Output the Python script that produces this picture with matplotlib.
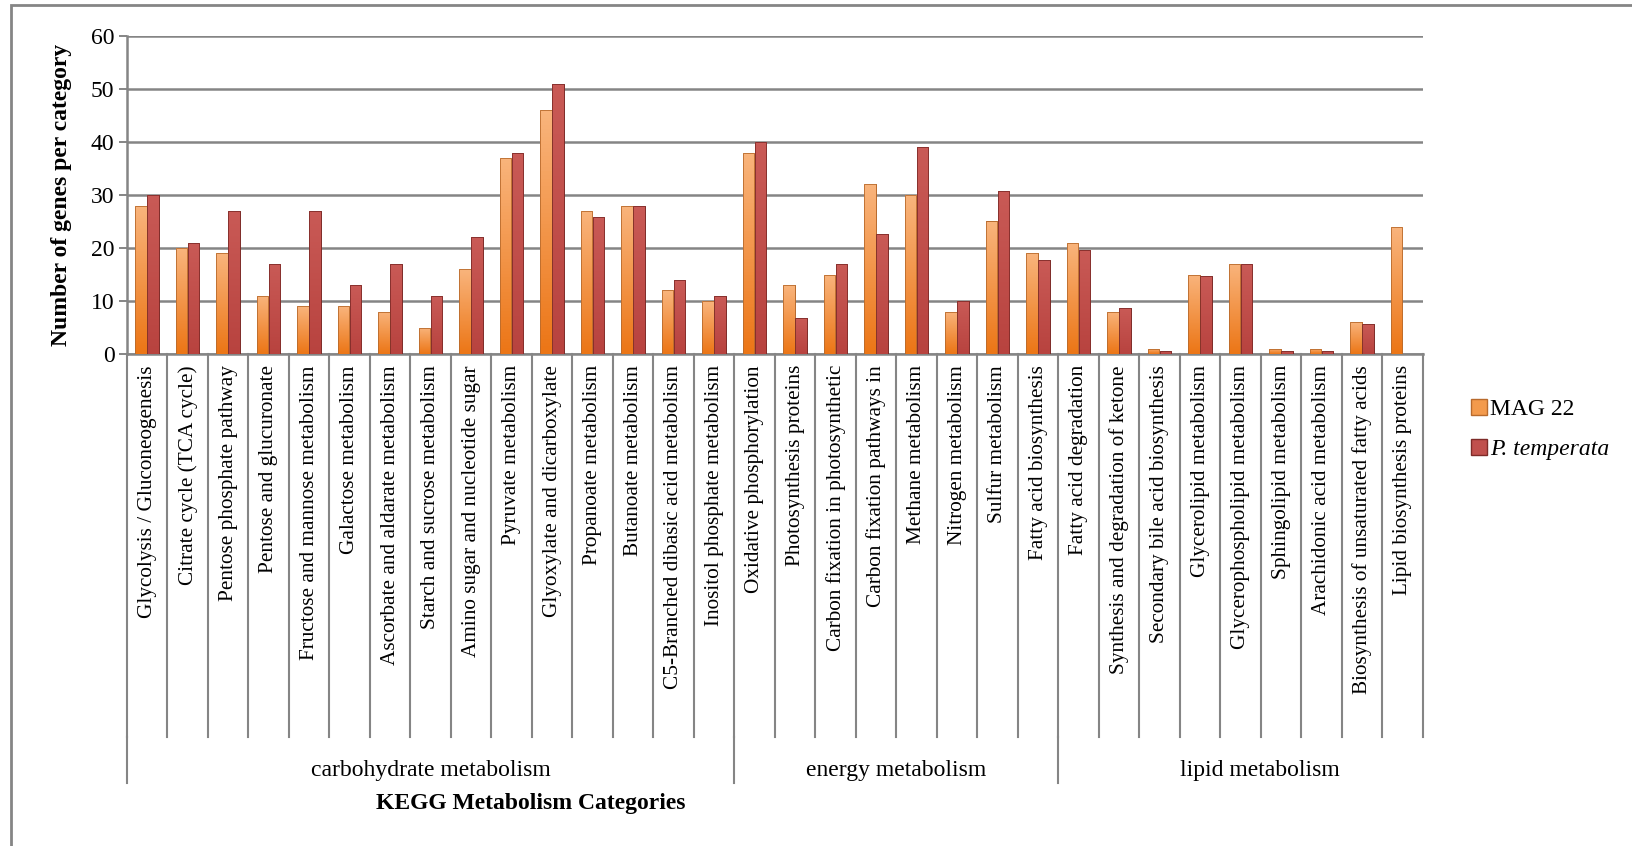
import numpy as np
import matplotlib
matplotlib.use('Agg')
import matplotlib.pyplot as plt
import matplotlib.transforms as mtransforms
from matplotlib.patches import Rectangle, Patch

# Data
categories = [
    'Glycolysis / Gluconeogenesis', 'Citrate cycle (TCA cycle)', 'Pentose phosphate pathway',
    'Pentose and glucuronate', 'Fructose and mannose metabolism', 'Galactose metabolism',
    'Ascorbate and aldarate metabolism', 'Starch and sucrose metabolism',
    'Amino sugar and nucleotide sugar', 'Pyruvate metabolism', 'Glyoxylate and dicarboxylate',
    'Propanoate metabolism', 'Butanoate metabolism', 'C5-Branched dibasic acid metabolism',
    'Inositol phosphate metabolism',
    'Oxidative phosphorylation', 'Photosynthesis proteins', 'Carbon fixation in photosynthetic',
    'Carbon fixation pathways in', 'Methane metabolism', 'Nitrogen metabolism',
    'Sulfur metabolism', 'Fatty acid biosynthesis',
    'Fatty acid degradation', 'Synthesis and degradation of ketone',
    'Secondary bile acid biosynthesis', 'Glycerolipid metabolism',
    'Glycerophospholipid metabolism', 'Sphingolipid metabolism', 'Arachidonic acid metabolism',
    'Biosynthesis of unsaturated fatty acids', 'Lipid biosynthesis proteins',
]
mag22 = [28, 20, 19, 11, 9, 9, 8, 5, 16, 37, 46, 27, 28, 12, 10,
         38, 13, 15, 32, 30, 8, 25, 19,
         21, 8, 1, 15, 17, 1, 1, 6, 24]
p_temperata = [30, 21, 27, 17, 27, 13, 17, 11, 22, 38, 51, 25.8, 28, 14, 11,
               40, 6.7, 17, 22.7, 39, 10, 30.8, 17.7,
               19.6, 8.6, 0.5, 14.7, 17, 0.5, 0.5, 5.7, 0]
groups = ['carbohydrate metabolism', 'energy metabolism', 'lipid metabolism']
group_sizes = [15, 8, 9]

plt.rcParams['font.family'] = ['Liberation Serif', 'DejaVu Serif']
grey = '#858585'

fig = plt.figure(figsize=(16.33, 8.46), dpi=100)
ax = fig.add_axes([127 / 1633, 1 - 354 / 846, 1296 / 1633, 318 / 846])

x = np.arange(len(categories))
w = 0.28
bars1 = ax.bar(x - 0.155, mag22, w, color='#F39A4C', edgecolor='#B86A2C', linewidth=0.6, zorder=3)
bars2 = ax.bar(x + 0.145, p_temperata, w, color='#C0504D', edgecolor='#7E2B28', linewidth=0.6, zorder=3)

# vertical gradient on the orange bars, slight shading on the red ones
grad = np.linspace(0, 1, 64).reshape(-1, 1)
orange_cmap = matplotlib.colors.LinearSegmentedColormap.from_list('o', ['#EC7616', '#F9B47C'])
red_cmap = matplotlib.colors.LinearSegmentedColormap.from_list('r', ['#B8433F', '#C95A56'])
for bars, cmap in ((bars1, orange_cmap), (bars2, red_cmap)):
    for p in bars:
        if p.get_height() <= 0:
            continue
        x0, y0 = p.get_x(), p.get_y()
        im = ax.imshow(grad, extent=[x0, x0 + p.get_width(), y0, y0 + p.get_height()],
                       origin='lower', aspect='auto', cmap=cmap, zorder=3.5)
        im.set_clip_path(p)
        ax.add_patch(Rectangle((x0, y0), p.get_width(), p.get_height(), fill=False,
                               edgecolor=p.get_edgecolor(), linewidth=0.6, zorder=4))

ax.set_xlim(-0.5, len(categories) - 0.5)
ax.set_ylim(0, 60)
ax.set_yticks(range(0, 61, 10))
ax.yaxis.grid(True, color=grey, linewidth=1.8, zorder=0)
ax.set_axisbelow(True)
for s in ('top', 'right'):
    ax.spines[s].set_visible(False)
for s in ('left', 'bottom'):
    ax.spines[s].set_color(grey)
    ax.spines[s].set_linewidth(1.8)
ax.tick_params(axis='y', length=6, width=1.4, color=grey, labelsize=17, pad=3)
ax.set_xticks(x)
ax.set_xticklabels(categories, rotation=90, fontsize=15.3, va='top')
ax.tick_params(axis='x', length=0, pad=8)
ax.set_ylabel('Number of genes per category', fontsize=17, fontweight='bold')
ax.yaxis.set_label_coords((72 - 127) / 1296, 0.5)

# category separators and group brackets below the axis
trans = mtransforms.blended_transform_factory(ax.transData, ax.transAxes)
y_cat = (354 - 737) / 318
y_grp = (354 - 783) / 318
label_shift = [0, 0, 0.47]  # the lipid label sits a bit right of its group centre
for i in range(len(categories) + 1):
    ax.plot([i - 0.5, i - 0.5], [0, y_cat], transform=trans, color=grey, lw=1.5, clip_on=False)
start = 0
for name, n, dx in zip(groups, group_sizes, label_shift):
    ax.plot([start - 0.5, start - 0.5], [y_cat, y_grp], transform=trans, color=grey, lw=1.5, clip_on=False)
    ax.text(start + n / 2 - 0.5 + dx, (354 - 770) / 318, name, transform=trans, ha='center', va='center',
            fontsize=17)
    start += n

fig.text(531 / 1633, 1 - 803 / 846, 'KEGG Metabolism Categories', ha='center', va='center',
         fontsize=17, fontweight='bold')

handles = [Patch(facecolor='#F39A4C', edgecolor='#B86A2C'), Patch(facecolor='#C0504D', edgecolor='#7E2B28')]
leg = fig.legend(handles, ['MAG 22', 'P. temperata'], loc='upper left',
                 bbox_to_anchor=(1450 / 1633, 1 - 378 / 846), frameon=False, fontsize=17,
                 handlelength=0.65, handleheight=0.65, handletextpad=0.15, labelspacing=0.8)
leg.get_texts()[1].set_style('italic')

# outer chart border
fig.patches.append(Rectangle((11 / 1633, -0.1), 1.2, 1 - 5 / 846 + 0.1, transform=fig.transFigure,
                             fill=False, edgecolor=grey, linewidth=2))

fig.savefig('out.png', dpi=100, facecolor='white')
